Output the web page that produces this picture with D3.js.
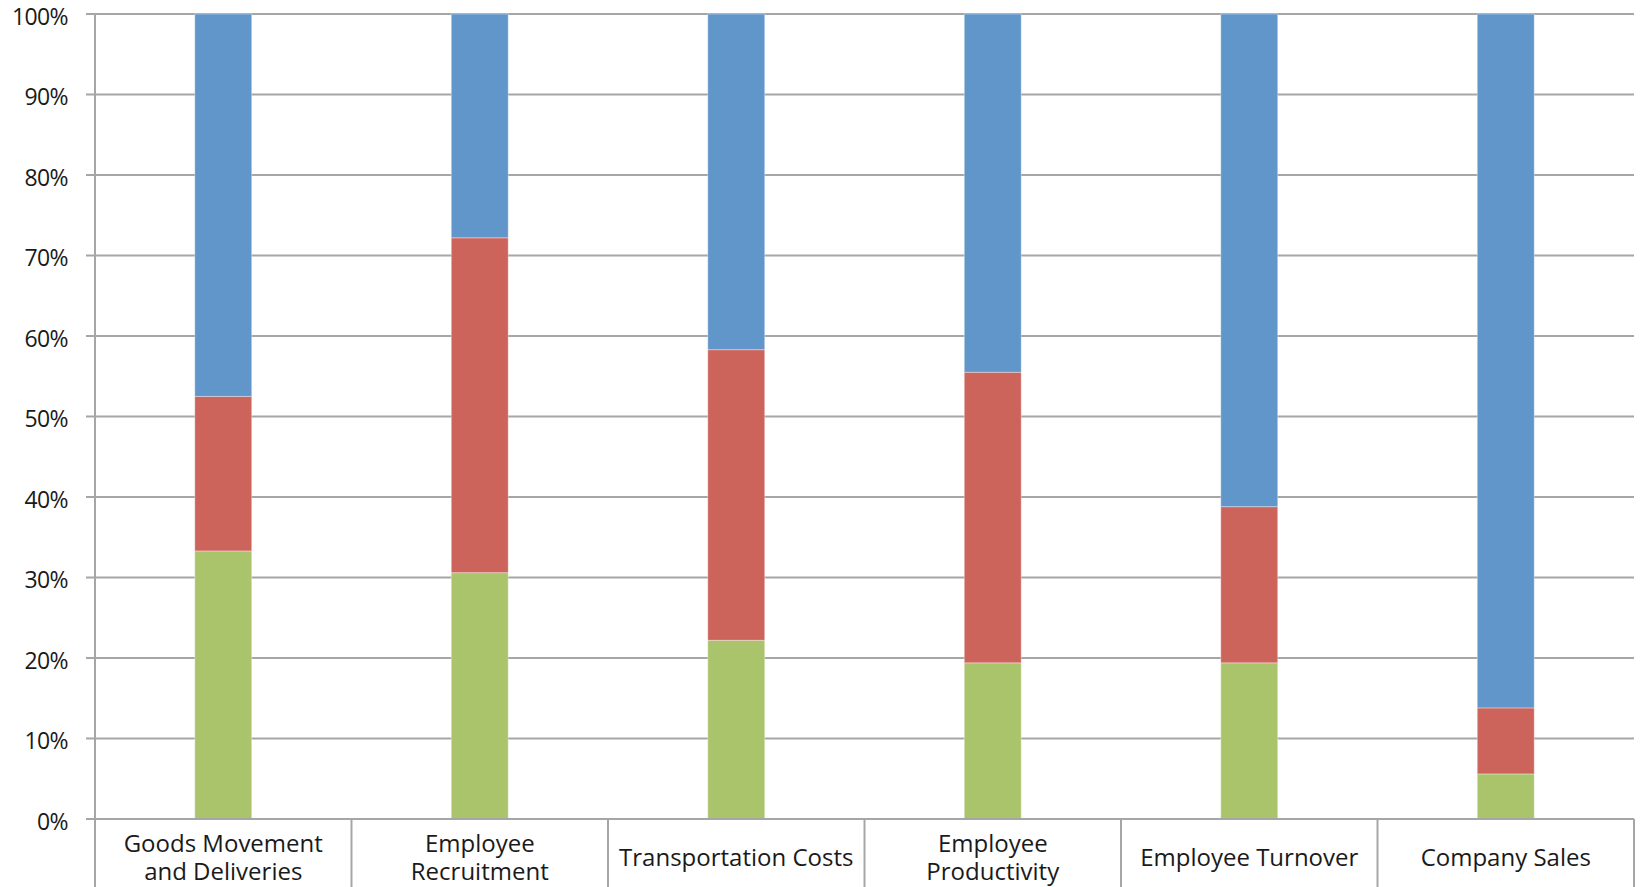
<!DOCTYPE html>
<html>
<head>
<meta charset="utf-8">
<script src="https://cdn.jsdelivr.net/npm/d3@7/dist/d3.min.js"></script>
<style>
  html, body { margin: 0; padding: 0; background: #fff; }
  svg { display: block; }
  text { font-family: "Open Sans", "DejaVu Sans", sans-serif; fill: #1a1a1a; }
</style>
</head>
<body>
<svg id="chart" width="1643" height="887"></svg>
<script>
// Categories (multi-line labels split on "|")
const categories = [
  "Goods Movement|and Deliveries",
  "Employee|Recruitment",
  "Transportation Costs",
  "Employee|Productivity",
  "Employee Turnover",
  "Company Sales"
];

// Stacked shares in percent, bottom to top
const greenValues = [33.3, 30.6, 22.2, 19.4, 19.4, 5.6];
const redValues   = [19.2, 41.6, 36.1, 36.1, 19.4, 8.2];
const blueValues  = [47.5, 27.8, 41.7, 44.5, 61.2, 86.2];

const yTicks = [0, 10, 20, 30, 40, 50, 60, 70, 80, 90, 100];

const seriesKeys = ["green", "red", "blue"];
const seriesColors = { green: "#a9c46b", red: "#cd645c", blue: "#6096c9" };

const rows = categories.map((c, i) => ({
  category: c,
  green: greenValues[i],
  red: redValues[i],
  blue: blueValues[i]
}));

const svg = d3.select("#chart");
const margin = { top: 14, left: 95, right: 9, bottom: 68 };
const width = 1643 - margin.left - margin.right;
const height = 887 - margin.top - margin.bottom;

const g = svg.append("g").attr("transform", `translate(${margin.left},${margin.top})`);

const x = d3.scaleBand().domain(categories).range([0, width]).paddingInner(0).paddingOuter(0);
const y = d3.scaleLinear().domain([0, 100]).range([height, 0]);

// Horizontal gridlines with short left ticks
g.append("g")
  .selectAll("line")
  .data(yTicks)
  .join("line")
  .attr("x1", -9)
  .attr("x2", width)
  .attr("y1", d => y(d))
  .attr("y2", d => y(d))
  .attr("stroke", "#a6a6a6")
  .attr("stroke-width", 2);

// Y labels
g.append("g")
  .selectAll("text")
  .data(yTicks)
  .join("text")
  .attr("x", -27)
  .attr("y", d => y(d))
  .attr("dy", 10.5)
  .attr("text-anchor", "end")
  .attr("font-size", 23)
  .style("letter-spacing", "-0.6px")
  .text(d => d + "%");

// Stacked bars
const stack = d3.stack().keys(seriesKeys);
const stacked = stack(rows);
const barWidth = x.bandwidth() * 0.222;

g.append("g")
  .selectAll("g")
  .data(stacked)
  .join("g")
  .attr("fill", d => seriesColors[d.key])
  .selectAll("rect")
  .data(d => d)
  .join("rect")
  .attr("x", d => x(d.data.category) + (x.bandwidth() - barWidth) / 2)
  .attr("width", barWidth)
  .attr("y", d => y(d[1]))
  .attr("height", d => y(d[0]) - y(d[1]))
  .attr("stroke", "rgba(255,255,255,0.35)")
  .attr("stroke-width", 1);

// Y axis line
g.append("line")
  .attr("x1", 0).attr("x2", 0)
  .attr("y1", 0).attr("y2", height + margin.bottom)
  .attr("stroke", "#a6a6a6").attr("stroke-width", 2);

// Category dividers extending below the baseline
const dividers = d3.range(1, categories.length + 1).map(i => i * x.step());
g.append("g")
  .selectAll("line")
  .data(dividers)
  .join("line")
  .attr("x1", d => d).attr("x2", d => d)
  .attr("y1", height).attr("y2", height + margin.bottom)
  .attr("stroke", "#a6a6a6").attr("stroke-width", 2);

// Baseline
g.append("line")
  .attr("x1", -9).attr("x2", width)
  .attr("y1", height).attr("y2", height)
  .attr("stroke", "#a6a6a6").attr("stroke-width", 2);

// Category labels
const labels = g.append("g")
  .selectAll("text")
  .data(categories)
  .join("text")
  .attr("text-anchor", "middle")
  .attr("font-size", 24)
  .attr("x", d => x(d) + x.bandwidth() / 2);

labels.each(function(d) {
  const parts = d.split("|");
  const t = d3.select(this);
  if (parts.length === 1) {
    t.append("tspan").attr("x", x(d) + x.bandwidth() / 2).attr("y", height + 47).text(parts[0]);
  } else {
    parts.forEach((p, i) => {
      t.append("tspan").attr("x", x(d) + x.bandwidth() / 2).attr("y", height + 33 + i * 28).text(p);
    });
  }
});
</script>
</body>
</html>
